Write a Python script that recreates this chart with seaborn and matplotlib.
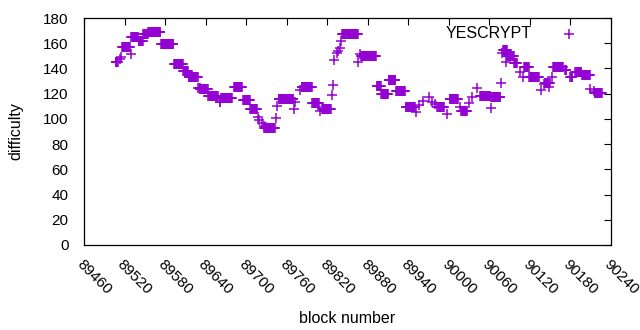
import numpy as np
import pandas as pd
import matplotlib
matplotlib.use('Agg')
import matplotlib.pyplot as plt
import seaborn as sns

# runs of blocks sharing one difficulty value: first block, last block, difficulty
run_start = [89507, 89513, 89515, 89516, 89529, 89530, 89541, 89548, 89555, 89574,
             89593, 89607, 89615, 89629, 89632, 89644, 89661, 89663, 89682, 89696,
             89706, 89717, 89719, 89723, 89726, 89727, 89744, 89746, 89748, 89771,
             89773, 89780, 89782, 89798, 89809, 89812, 89827, 89829, 89830, 89834,
             89836, 89839, 89840, 89842, 89866, 89869, 89870, 89893, 89900, 89911,
             89922, 89936, 89951, 89956, 89962, 89970, 89975, 89980, 89983, 89997,
             90001, 90017, 90018, 90030, 90035, 90042, 90046, 90062, 90063, 90077,
             90079, 90080, 90085, 90086, 90097, 90106, 90110, 90111, 90119, 90136,
             90141, 90142, 90148, 90153, 90154, 90172, 90180, 90187, 90197, 90209,
             90215, 90216]
run_end = [89510, 89513, 89515, 89528, 89529, 89540, 89547, 89554, 89573, 89592,
           89606, 89614, 89628, 89631, 89643, 89658, 89662, 89679, 89694, 89705,
           89716, 89717, 89719, 89723, 89726, 89742, 89744, 89746, 89770, 89771,
           89773, 89780, 89797, 89808, 89809, 89825, 89827, 89829, 89830, 89834,
           89836, 89839, 89840, 89865, 89866, 89869, 89892, 89899, 89910, 89921,
           89935, 89950, 89951, 89956, 89962, 89970, 89975, 89980, 89993, 89997,
           90013, 90017, 90027, 90030, 90035, 90042, 90061, 90062, 90076, 90077,
           90079, 90086, 90085, 90096, 90101, 90106, 90110, 90118, 90133, 90136,
           90141, 90149, 90148, 90153, 90169, 90174, 90183, 90196, 90209, 90209,
           90215, 90226]
run_value = [145, 147.3, 149.3, 156.8, 151.2, 164.7, 162, 167, 168.7, 159.2,
             143.3, 137.7, 133, 124.7, 123.5, 117.9, 113.7, 116.6, 125, 115.2,
             107.6, 101.3, 99, 96.5, 94.4, 93, 101, 110.2, 115.5, 107.6,
             113.6, 123, 125.5, 112.4, 106.5, 107.6, 118.7, 126.6, 146.7, 152,
             154, 156, 162, 167, 145.4, 151.2, 150, 126, 119.5, 130.8,
             122.4, 109.2, 105.2, 111, 114.4, 117.6, 113.6, 111.8, 109.2, 103.9,
             115.5, 109.2, 106.3, 112.8, 117.6, 124.3, 118.2, 108.9, 117.1, 128.7,
             152, 154.5, 145, 150, 144, 137.4, 133.5, 141.4, 133, 123,
             128, 128.5, 125.5, 133.5, 141.4, 138.8, 133, 137, 134.6, 124,
             122.4, 120.8]

x_ticks = list(range(89460, 90241, 60))
y_ticks = list(range(0, 181, 20))

blocks, diffs = [], []
for s, e, v in zip(run_start, run_end, run_value):
    for b in range(s, e + 1):
        blocks.append(b)
        diffs.append(v)
df = pd.DataFrame({'block number': blocks, 'difficulty': diffs})

sns.set_style('white')
plt.rcParams['font.family'] = ['Liberation Sans', 'DejaVu Sans']
plt.rcParams['text.color'] = 'black'
plt.rcParams['axes.labelcolor'] = 'black'
plt.rcParams['xtick.color'] = 'black'
plt.rcParams['ytick.color'] = 'black'
fs = 11

fig = plt.figure(figsize=(6.4, 3.3), dpi=100)
ax = fig.add_axes([84 / 640, 1 - 245 / 330, (611 - 84) / 640, (245 - 18) / 330])

sns.scatterplot(data=df, x='block number', y='difficulty', marker='+',
                color='#9400d3', s=42, linewidth=1.1, label='YESCRYPT', ax=ax)

ax.set_xlim(89460, 90240)
ax.set_ylim(0, 180)
ax.set_xticks(x_ticks)
ax.set_yticks(y_ticks)
ax.set_xticklabels([str(t) for t in x_ticks], rotation=-45, ha='left', va='top',
                   rotation_mode='anchor', fontsize=fs)
ax.set_yticklabels([str(t) for t in y_ticks], fontsize=fs)
ax.tick_params(direction='in', length=5, width=0.8, top=True, right=True)
ax.tick_params(axis='y', pad=11)
ax.tick_params(axis='x', pad=9)
for sp in ax.spines.values():
    sp.set_color('black')
    sp.set_linewidth(0.9)
ax.set_xlabel('block number', fontsize=11.5, labelpad=10)
ax.set_ylabel('difficulty', fontsize=11.5, labelpad=14)

ax.legend(loc='upper right', bbox_to_anchor=(0.965, 1.0), frameon=False, markerfirst=False,
          fontsize=11.5, handletextpad=1.3, borderaxespad=0, borderpad=0.5)

fig.savefig('out.png', dpi=100)
